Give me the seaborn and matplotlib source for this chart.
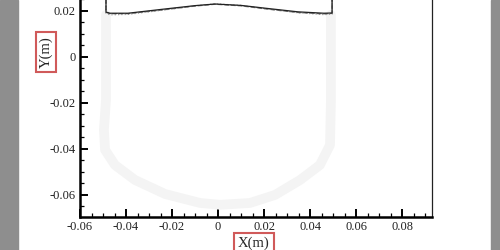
import matplotlib
matplotlib.use("Agg")
import matplotlib.pyplot as plt
import seaborn as sns
import pandas as pd
from matplotlib.ticker import MultipleLocator, FuncFormatter
from matplotlib.patches import Rectangle

# ---- data ----
surf_x = [-0.0487, -0.0487, -0.0470, -0.0391, -0.0243, -0.0100, -0.0013, 0.0100, 0.0204, 0.0348, 0.0460, 0.0496, 0.0496]
solid_y = [0.026, 0.0195, 0.0190, 0.0190, 0.0207, 0.0223, 0.0230, 0.0224, 0.0212, 0.0196, 0.0190, 0.0191, 0.026]
dashed_y = [0.026, 0.0194, 0.0188, 0.0188, 0.0204, 0.0221, 0.0229, 0.0222, 0.0209, 0.0193, 0.0187, 0.0189, 0.026]
dotted_y = [0.026, 0.0190, 0.0183, 0.0185, 0.0203, 0.0222, 0.0231, 0.0224, 0.0210, 0.0192, 0.0184, 0.0186, 0.026]

cup_x = [-0.0487, -0.0487, -0.0496, -0.0491, -0.0448, -0.0361, -0.0230, -0.0078, 0.0009, 0.0139, 0.0248, 0.0357, 0.0443, 0.0487, 0.0491, 0.0491]
cup_y = [0.0183, -0.0187, -0.0317, -0.0404, -0.0470, -0.0535, -0.0596, -0.0635, -0.0643, -0.0635, -0.0600, -0.0535, -0.0470, -0.0383, -0.0187, 0.0183]

x_ticks = [-0.06, -0.04, -0.02, 0, 0.02, 0.04, 0.06, 0.08]
y_ticks = [-0.06, -0.04, -0.02, 0, 0.02]

sns.set_theme(style="white")
plt.rcParams['font.family'] = ['Liberation Serif', 'DejaVu Serif']
plt.rcParams['axes.unicode_minus'] = False

fig = plt.figure(figsize=(5, 2.5), dpi=100)
fig.patch.set_facecolor('white')
# grey screen frame
fig.patches.append(Rectangle((0, 0), 18 / 500, 1, transform=fig.transFigure, color='#8e8e8e', zorder=0))
fig.patches.append(Rectangle((491 / 500, 0), 9 / 500, 1, transform=fig.transFigure, color='#8e8e8e', zorder=0))

xmin, xmax = -0.06, 0.093
ymin, ymax = -0.0696, 0.026
scale = 2300.0  # px per unit
left_px = 80
bottom_px = 217
w_px = (xmax - xmin) * scale
h_px = (ymax - ymin) * scale
ax = fig.add_axes([left_px / 500, (250 - bottom_px) / 250, w_px / 500, h_px / 250])
ax.set_xlim(xmin, xmax)
ax.set_ylim(ymin, ymax)
ax.patch.set_alpha(0)

cup = pd.DataFrame({'x': cup_x, 'y': cup_y})
sns.lineplot(data=cup, x='x', y='y', sort=False, estimator=None, color='#f4f4f4', lw=7, ax=ax, zorder=1)

df_s = pd.DataFrame({'x': surf_x, 'y': solid_y})
df_d = pd.DataFrame({'x': surf_x, 'y': dashed_y})
df_o = pd.DataFrame({'x': surf_x, 'y': dotted_y})
sns.lineplot(data=df_o, x='x', y='y', sort=False, estimator=None, color='#999999', lw=0.9, ls=':', ax=ax, zorder=2)
sns.lineplot(data=df_d, x='x', y='y', sort=False, estimator=None, color='#777777', lw=0.9, ls='--', ax=ax, zorder=3)
sns.lineplot(data=df_s, x='x', y='y', sort=False, estimator=None, color='#222222', lw=0.9, ax=ax, zorder=4)

ax.set_xlabel('')
ax.set_ylabel('')
ax.set_xticks(x_ticks)
ax.set_yticks(y_ticks)
fmt = FuncFormatter(lambda v, p: '0' if abs(v) < 1e-12 else ('%.2f' % v))
ax.xaxis.set_major_formatter(fmt)
ax.yaxis.set_major_formatter(fmt)
ax.xaxis.set_minor_locator(MultipleLocator(0.005))
ax.yaxis.set_minor_locator(MultipleLocator(0.005))
ax.tick_params(which='major', direction='in', length=6, width=1.4, color='black',
               labelsize=9, labelcolor='#222222', pad=3, left=True, bottom=True)
ax.tick_params(which='minor', direction='in', length=3, width=0.9, color='black', left=True, bottom=True)
ax.tick_params(axis='x', which='both', top=False)
ax.tick_params(axis='y', which='both', right=False)

for s in ['left', 'bottom']:
    ax.spines[s].set_linewidth(1.8)
    ax.spines[s].set_color('black')
ax.spines['right'].set_linewidth(0.9)
ax.spines['right'].set_color('#222222')
ax.spines['top'].set_visible(False)

box = dict(boxstyle='square,pad=0.25', fc='white', ec='#d05a5a', lw=1.5)
fig.text(46 / 500, 1 - 52 / 250, 'Y(m)', rotation=90, ha='center', va='center', fontsize=10.5, bbox=box)
fig.text(254 / 500, 1 - 243 / 250, 'X(m)', ha='center', va='center', fontsize=10.5, bbox=box)

fig.savefig('out.png', dpi=100)
